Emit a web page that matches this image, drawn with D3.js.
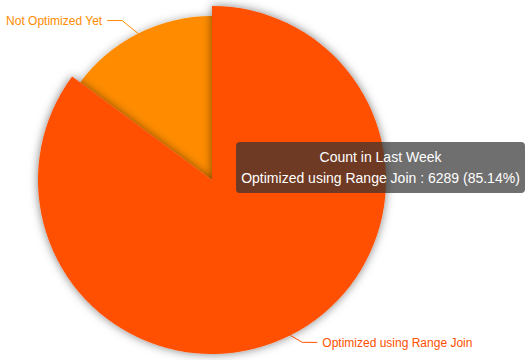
<!DOCTYPE html>
<html><head><meta charset="utf-8">
<script src="https://cdn.jsdelivr.net/npm/d3@7"></script>
<style>
html,body{margin:0;padding:0;background:#fff;}
svg{display:block;font-family:"Liberation Sans",Arial,Helvetica,sans-serif;}
</style></head>
<body>
<svg id="chart" width="528" height="360"></svg>
<script>
const seriesName = "Count in Last Week";
const categories = ["Optimized using Range Join", "Not Optimized Yet"];
const values = [6289, 1098];
const colors = ["#FF4F00", "#FF8C00"];
const highlighted = 0;

const W = 528, H = 360;
const cx = 212, cy = 180, R = 164, emphasisGrow = 10;
// label line elbow offsets relative to slice edge point (layout tuning)
const elbowOffsets = [[12, 7], [-16, -13]];

const svg = d3.select("#chart");
const defs = svg.append("defs");
const f = defs.append("filter").attr("id","sh").attr("x","-20%").attr("y","-20%").attr("width","140%").attr("height","140%");
f.append("feDropShadow").attr("dx",0).attr("dy",0).attr("stdDeviation",5).attr("flood-color","#000").attr("flood-opacity",0.5);
const f2 = defs.append("filter").attr("id","sh2").attr("x","-20%").attr("y","-20%").attr("width","140%").attr("height","140%");
f2.append("feDropShadow").attr("dx",0).attr("dy",0).attr("stdDeviation",4).attr("flood-color","#000").attr("flood-opacity",0.3);

const data = categories.map((c,i)=>({name:c, value:values[i], color:colors[i], i}));
const total = d3.sum(values);
const pie = d3.pie().value(d=>d.value).sort(null).startAngle(0).endAngle(2*Math.PI);
const arcs = pie(data);

const g = svg.append("g").attr("transform",`translate(${cx},${cy})`);
const order = arcs.slice().sort((a,b)=> (a.data.i===highlighted) - (b.data.i===highlighted));
g.selectAll("path.slice").data(order).join("path")
  .attr("class","slice")
  .attr("d", d => d3.arc().innerRadius(0).outerRadius(d.data.i===highlighted ? R+emphasisGrow : R)(d))
  .attr("fill", d=>d.data.color)
  .attr("filter", d=> d.data.i===highlighted ? "url(#sh)" : "url(#sh2)");

// labels
arcs.forEach(d=>{
  const r = d.data.i===highlighted ? R+emphasisGrow : R;
  const a = (d.startAngle+d.endAngle)/2;
  const p0 = [cx + r*Math.sin(a), cy - r*Math.cos(a)];
  const off = elbowOffsets[d.data.i];
  const p1 = [p0[0]+off[0], p0[1]+off[1]];
  const right = Math.sin(a) > 0;
  const p2 = [p1[0] + (right ? 15 : -15), p1[1]];
  svg.append("polyline")
    .attr("points", [p0,p1,p2].map(p=>p.join(",")).join(" "))
    .attr("fill","none").attr("stroke", d.data.color).attr("stroke-width",1);
  svg.append("text")
    .attr("x", p2[0] + (right ? 5 : -5)).attr("y", p2[1])
    .attr("dy","0.35em")
    .attr("text-anchor", right ? "start" : "end")
    .attr("font-size",12).attr("fill", d.data.color)
    .text(d.data.name);
});

// tooltip
const hd = data[highlighted];
const tip = svg.append("g");
const tx = 236, ty = 142, tw = 289, th = 51;
tip.append("rect").attr("x",tx).attr("y",ty).attr("width",tw).attr("height",th).attr("rx",4)
  .attr("fill","rgba(50,50,50,0.7)");
tip.append("text").attr("x",tx+tw/2).attr("y",ty+20).attr("text-anchor","middle")
  .attr("font-size",14).attr("fill","#fff").text(seriesName);
tip.append("text").attr("x",tx+tw/2).attr("y",ty+41).attr("text-anchor","middle")
  .attr("font-size",14).attr("fill","#fff")
  .text(`${hd.name} : ${hd.value} (${(hd.value/total*100).toFixed(2)}%)`);
</script>
</body></html>
